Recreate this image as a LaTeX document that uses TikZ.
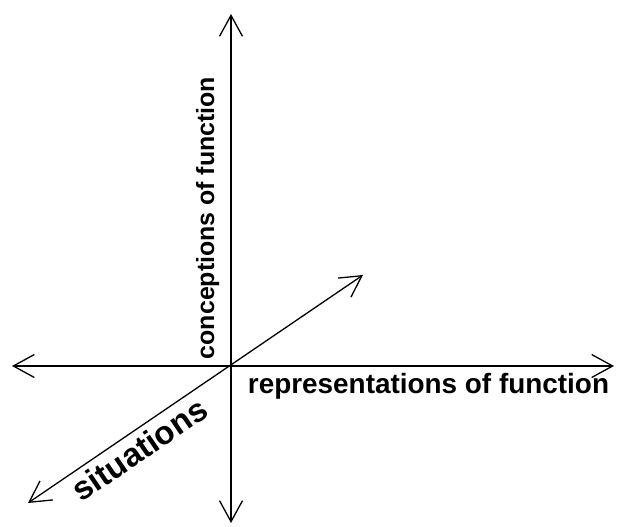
\documentclass[tikz,border=0pt]{standalone}
\usepackage{fontspec}
\setmainfont{Liberation Sans}
\usetikzlibrary{arrows.meta}
\begin{document}
\begin{tikzpicture}[x=1bp,y=-1bp,
  axis/.style={line width=1.3bp,{Straight Barb[length=21bp,width=23bp]}-{Straight Barb[length=21bp,width=23bp]}},
  lbl/.style={inner sep=0pt,font=\bfseries}]
\useasboundingbox (0,0) rectangle (620,527);
\coordinate (O) at (231,366);
\coordinate (top) at (231,14);
\coordinate (bot) at (231,523);
\coordinate (left) at (12,366);
\coordinate (right) at (614,366);
\coordinate (dl) at (28,503);
\coordinate (ur) at (363,275);
\draw[axis] (bot) -- (top);
\draw[axis] (left) -- (right);
\draw[axis] (dl) -- (ur);
\node[lbl,anchor=base,rotate=90,font=\fontsize{25}{30}\selectfont\bfseries] (conc) at (214,218) {conceptions of function};
\node[lbl,anchor=base,font=\fontsize{28}{33}\selectfont\bfseries] (rep) at (428.5,393) {representations of function};
\node[lbl,anchor=base,rotate=34.2,font=\fontsize{33}{40}\selectfont\bfseries] (sit) at (146,459) {situations};
\end{tikzpicture}
\end{document}
